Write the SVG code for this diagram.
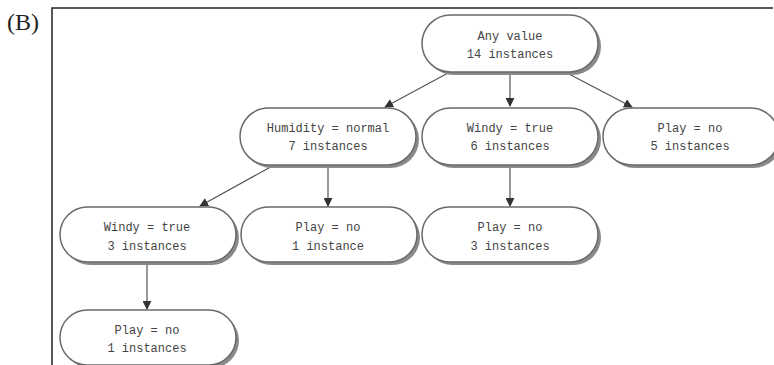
<svg xmlns="http://www.w3.org/2000/svg" width="774" height="365" viewBox="0 0 774 365">
<defs>
<style>
.box{fill:#fff;stroke:#6a6a6a;stroke-width:1.5}
.sh{fill:#8a8a8a}
.t{font-family:"Liberation Mono","Courier New",monospace;font-size:12px;fill:#444;text-anchor:middle}
.c{stroke:#555;stroke-width:1.2;fill:none;marker-end:url(#ah)}
</style>
<marker id="ah" viewBox="0 0 10 10" refX="9" refY="5" markerWidth="9" markerHeight="9" markerUnits="userSpaceOnUse" orient="auto">
<path d="M0,0 L10,5 L0,10 Z" fill="#333"/>
</marker>
</defs>
<rect width="774" height="365" fill="#fff"/>
<text x="7" y="30" font-family="Liberation Serif,serif" font-size="24" fill="#222">(B)</text>
<path d="M52,365 V8 H773" fill="none" stroke="#222" stroke-width="1.5"/>
<g id="connectors">
<line class="c" x1="448" y1="73" x2="385" y2="107"/>
<line class="c" x1="510" y1="72" x2="510" y2="106"/>
<line class="c" x1="567" y1="73" x2="632" y2="107"/>
<line class="c" x1="276" y1="164" x2="200" y2="206"/>
<line class="c" x1="328" y1="166" x2="328" y2="206"/>
<line class="c" x1="510" y1="166" x2="510" y2="206"/>
<line class="c" x1="147" y1="265" x2="147" y2="309"/>
</g>
<g id="n_root">
<rect class="sh" x="425" y="18" width="176" height="57" rx="28.5"/>
<rect class="box" x="422" y="15" width="176" height="57" rx="28.5"/>
<text class="t" x="510" y="40">Any value</text>
<text class="t" x="510" y="58">14 instances</text>
</g>
<g id="n_humidity">
<rect class="sh" x="243" y="111" width="176" height="57" rx="28.5"/>
<rect class="box" x="240" y="108" width="176" height="57" rx="28.5"/>
<text class="t" x="328" y="132">Humidity = normal</text>
<text class="t" x="328" y="150">7 instances</text>
</g>
<g id="n_windy6">
<rect class="sh" x="425" y="111" width="176" height="57" rx="28.5"/>
<rect class="box" x="422" y="108" width="176" height="57" rx="28.5"/>
<text class="t" x="510" y="132">Windy = true</text>
<text class="t" x="510" y="150">6 instances</text>
</g>
<g id="n_play5">
<rect class="sh" x="606" y="111" width="176" height="57" rx="28.5"/>
<rect class="box" x="603" y="108" width="176" height="57" rx="28.5"/>
<text class="t" x="690" y="132">Play = no</text>
<text class="t" x="690" y="150">5 instances</text>
</g>
<g id="n_windy3">
<rect class="sh" x="63" y="210" width="176" height="55" rx="27.5"/>
<rect class="box" x="60" y="207" width="176" height="55" rx="27.5"/>
<text class="t" x="147" y="231">Windy = true</text>
<text class="t" x="147" y="250">3 instances</text>
</g>
<g id="n_play1a">
<rect class="sh" x="244" y="210" width="176" height="55" rx="27.5"/>
<rect class="box" x="241" y="207" width="176" height="55" rx="27.5"/>
<text class="t" x="328" y="231">Play = no</text>
<text class="t" x="328" y="250">1 instance</text>
</g>
<g id="n_play3">
<rect class="sh" x="425" y="210" width="176" height="55" rx="27.5"/>
<rect class="box" x="422" y="207" width="176" height="55" rx="27.5"/>
<text class="t" x="510" y="231">Play = no</text>
<text class="t" x="510" y="250">3 instances</text>
</g>
<g id="n_play1b">
<rect class="sh" x="63" y="313" width="176" height="55" rx="27.5"/>
<rect class="box" x="60" y="310" width="176" height="55" rx="27.5"/>
<text class="t" x="147" y="334">Play = no</text>
<text class="t" x="147" y="352">1 instances</text>
</g>
</svg>
